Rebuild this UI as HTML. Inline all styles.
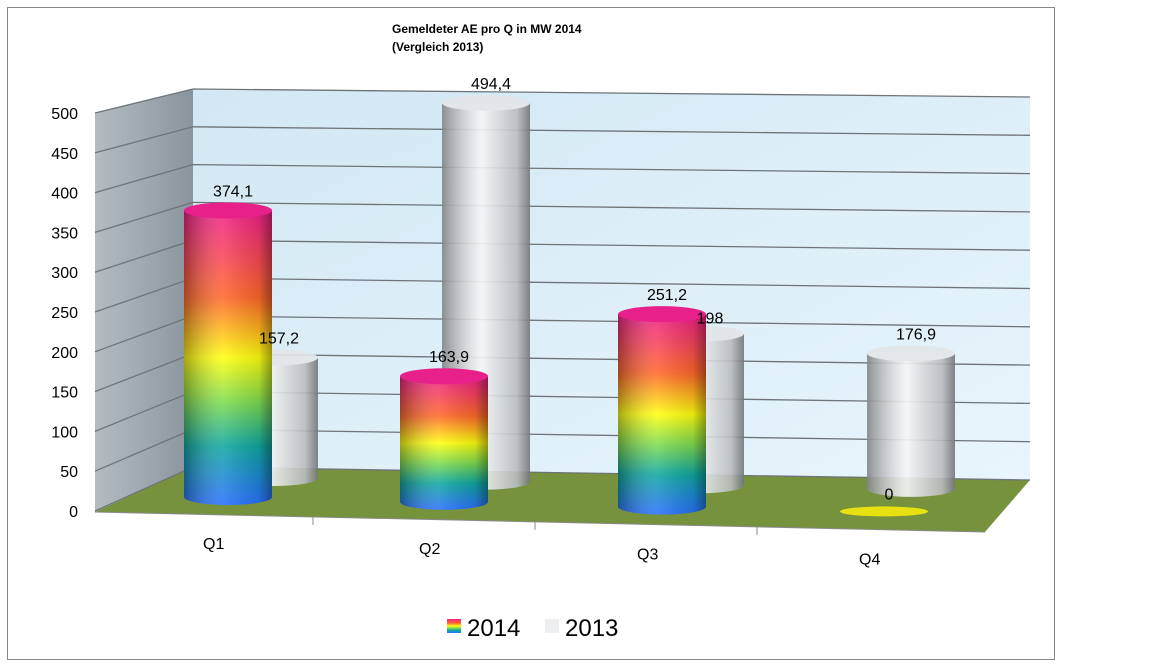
<!DOCTYPE html>
<html><head><meta charset="utf-8"><style>
body{margin:0;background:#fff;}
svg{display:block;font-family:"Liberation Sans",sans-serif;}
</style></head><body>
<svg width="1152" height="668" viewBox="0 0 1152 668">
<defs>
<linearGradient id="rv" x1="0" y1="0" x2="0" y2="1">
<stop offset="0" stop-color="#f0208a"/><stop offset="0.3" stop-color="#ff6a2a"/>
<stop offset="0.5" stop-color="#ffff10"/><stop offset="0.65" stop-color="#7fdc50"/>
<stop offset="0.8" stop-color="#10a8a0"/><stop offset="1" stop-color="#2a70ff"/></linearGradient>
<linearGradient id="shade" x1="0" y1="0" x2="1" y2="0">
<stop offset="0" stop-color="#000" stop-opacity="0.35"/><stop offset="0.45" stop-color="#fff" stop-opacity="0.12"/>
<stop offset="0.85" stop-color="#000" stop-opacity="0.1"/><stop offset="1" stop-color="#000" stop-opacity="0.4"/></linearGradient>
<linearGradient id="gray" x1="0" y1="0" x2="1" y2="0">
<stop offset="0" stop-color="#c8cdd0"/><stop offset="0.45" stop-color="#f4f6f7"/><stop offset="1" stop-color="#c0c5c8"/></linearGradient>
<linearGradient id="wall" x1="0" y1="0" x2="1" y2="1">
<stop offset="0" stop-color="#d2e8f4"/><stop offset="1" stop-color="#e8f5fc"/></linearGradient>
<linearGradient id="lwall" x1="0" y1="0" x2="1" y2="0">
<stop offset="0" stop-color="#b4bcc2"/><stop offset="1" stop-color="#8a949c"/></linearGradient>
</defs>
<rect x="7.5" y="7.5" width="1047" height="652" fill="#fff" stroke="#888"/>
<text x="392" y="33" font-size="12" font-weight="bold">Gemeldeter AE  pro Q in MW 2014</text>
<text x="392" y="51" font-size="12" font-weight="bold">(Vergleich 2013)</text>
<polygon points="193,89 1030,97 1030,480 193,467" fill="url(#wall)"/>
<polygon points="95,113 193,89 193,467 95,512" fill="url(#lwall)"/>
<polygon points="95,512 193,467 1030,480 985,532" fill="#76923c"/>
<g id="grid"></g>
<g id="bars"></g>
<g id="labels"></g>
<g>
<rect x="447" y="619" width="14" height="14" fill="url(#rv)"/>
<text x="467" y="636" font-size="24">2014</text>
<rect x="545" y="619" width="14" height="14" fill="#eceeef"/>
<text x="565" y="636" font-size="24">2013</text>
</g>
</svg>
<script>
const categories=["Q1","Q2","Q3","Q4"];
const values2014=[374.1,163.9,251.2,0];
const values2013=[157.2,494.4,198,176.9];
const labels2014=["374,1","163,9","251,2","0"];
const labels2013=["157,2","494,4","198","176,9"];
const ticks=[0,50,100,150,200,250,300,350,400,450,500];
const NS="http://www.w3.org/2000/svg";
function mk(tag,attrs,parent){const e=document.createElementNS(NS,tag);for(const k in attrs)e.setAttribute(k,attrs[k]);parent.appendChild(e);return e;}
const grid=document.getElementById('grid'),bars=document.getElementById('bars'),lab=document.getElementById('labels');
const yF=v=>511-v*0.796, yBL=v=>467-v*0.756, yBR=v=>480-v*0.766;
ticks.forEach(v=>{
 const p=mk('polyline',{points:`95,${yF(v)} 193,${yBL(v)} 1030,${yBR(v)}`,fill:'none',stroke:'#6e7478','stroke-width':1.3},grid);
 
 
 const t=mk('text',{x:78,y:yF(v)+6,'font-size':16,'text-anchor':'end'},grid);t.textContent=v;
 
 
});
mk('line',{x1:95,y1:512,x2:985,y2:532,stroke:'#888'},grid);
[313,535,757].forEach((x,i)=>{const l=mk('line',{x1:x,y1:512+(x-95)*0.0225,x2:x,y2:520+(x-95)*0.0225,stroke:'#888'},grid);});
const scale=0.766, w=88, ry=8;
function cyl(cx,bottom,v,fill,name,op){
 const g=mk('g',{opacity:op},bars);
 
 
 const top=bottom-v*scale;
 if(v<=0){mk('ellipse',{cx:cx,cy:bottom,rx:w/2,ry:5,fill:'#e8e010'},g);return top;}
 mk('path',{d:`M${cx-w/2},${top} L${cx-w/2},${bottom} A${w/2},${ry} 0 0 0 ${cx+w/2},${bottom} L${cx+w/2},${top} Z`,fill:fill},g);
 mk('path',{d:`M${cx-w/2},${top} L${cx-w/2},${bottom} A${w/2},${ry} 0 0 0 ${cx+w/2},${bottom} L${cx+w/2},${top} Z`,fill:'url(#shade)'},g);
 mk('ellipse',{cx:cx,cy:top,rx:w/2,ry:ry,fill:fill==='url(#rv)'?'#e8208a':'#e2e6e8'},g);
 return top;
}
const c13=[274,486,700,911], c14=[228,444,662,884];
categories.forEach((c,i)=>{
 const cx=c13[i], b=478+(cx-274)*0.017;
 const top=cyl(cx,b,values2013[i],'url(#gray)','bar-2013-'+c.toLowerCase(),0.9);
 const t=mk('text',{x:i==2?cx+10:cx+5,y:i==2?top-10:top-14,'font-size':16,'text-anchor':'middle'},lab);t.textContent=labels2013[i];
 
 
});
categories.forEach((c,i)=>{
 const cx=c14[i], b=497+(cx-228)*0.022;
 const top=cyl(cx,b,values2014[i],'url(#rv)','bar-2014-'+c.toLowerCase(),1);
 const t=mk('text',{x:cx+5,y:values2014[i]>0?top-14:top-12,'font-size':16,'text-anchor':'middle'},lab);t.textContent=labels2014[i];
 
 
 const q=mk('text',{x:cx-25,y:549+(cx-228)*0.024,'font-size':16},lab);q.textContent=c;
 
 
});
</script>
</body></html>
